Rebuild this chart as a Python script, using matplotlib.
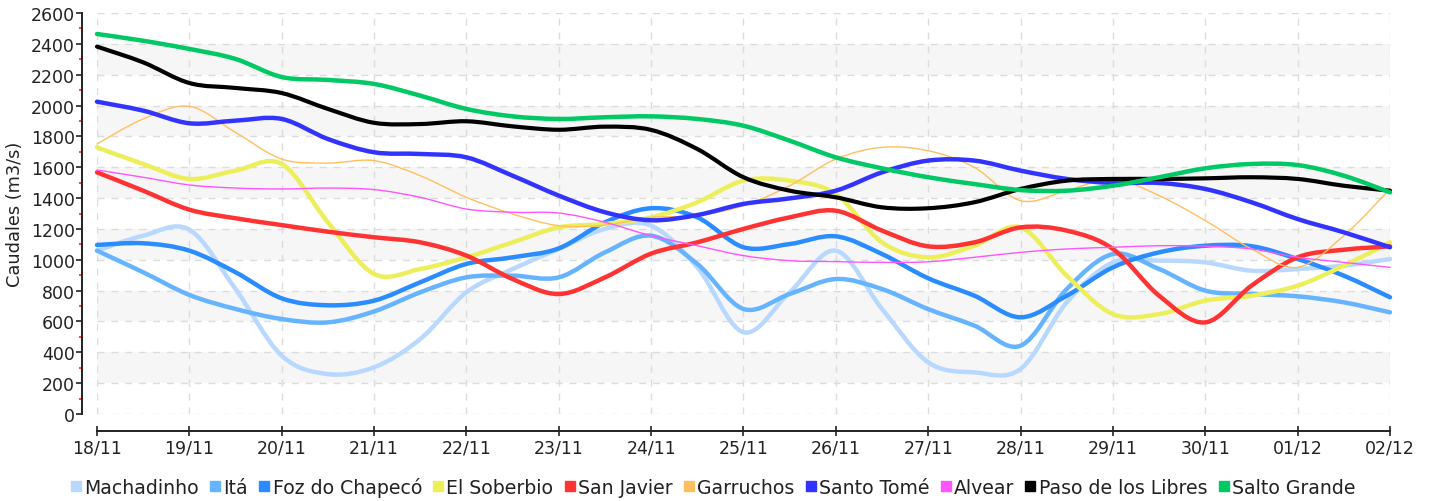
import numpy as np
import matplotlib.pyplot as plt
from matplotlib.lines import Line2D
from matplotlib.path import Path
from matplotlib.patches import PathPatch

# days from 18/11, sampled every half day
days = np.arange(0, 14.01, 0.5)
date_labels = ['18/11', '19/11', '20/11', '21/11', '22/11', '23/11', '24/11', '25/11',
               '26/11', '27/11', '28/11', '29/11', '30/11', '01/12', '02/12']

machadinho = [1059, 1156, 1195, 810, 378, 259, 303, 486, 789, 940, 1070, 1200, 1221, 951, 530,
              789, 1059, 681, 335, 270, 292, 724, 983, 994, 983, 929, 940, 962, 1005]
ita = [1059, 919, 772, 681, 616, 594, 665, 789, 886, 897, 886, 1048, 1156, 973, 681,
       778, 875, 810, 680, 573, 443, 810, 1037, 940, 800, 778, 763, 724, 659]
foz = [1096, 1107, 1059, 919, 750, 705, 735, 854, 973, 1016, 1074, 1243, 1334, 1275, 1081,
       1102, 1152, 1037, 880, 767, 627, 767, 951, 1048, 1091, 1088, 1005, 897, 757]
soberbio = [1729, 1621, 1524, 1578, 1621, 1243, 908, 940, 1016, 1113, 1210, 1232, 1275, 1373, 1513,
            1513, 1426, 1113, 1016, 1091, 1210, 897, 648, 648, 735, 767, 832, 962, 1113]
san_javier = [1567, 1448, 1325, 1269, 1225, 1182, 1146, 1113, 1027, 875, 778, 886, 1040, 1113, 1200,
              1275, 1318, 1189, 1087, 1113, 1210, 1189, 1070, 767, 594, 832, 1016, 1065, 1087]
garruchos = [1751, 1913, 1995, 1826, 1653, 1627, 1643, 1545, 1405, 1297, 1221, 1225, 1275, 1286, 1351,
             1480, 1653, 1729, 1707, 1599, 1383, 1448, 1524, 1416, 1254, 1070, 951, 1156, 1459]
santo_tome = [2025, 1967, 1885, 1902, 1913, 1783, 1697, 1686, 1664, 1545, 1416, 1308, 1256, 1290, 1362,
              1398, 1448, 1567, 1643, 1643, 1578, 1524, 1498, 1498, 1459, 1373, 1264, 1178, 1081]
alvear = [1582, 1535, 1485, 1465, 1459, 1465, 1455, 1405, 1329, 1308, 1303, 1243, 1156, 1091, 1027,
          994, 988, 983, 987, 1016, 1048, 1070, 1081, 1091, 1088, 1070, 1016, 983, 951]
paso_libres = [2382, 2280, 2146, 2114, 2081, 1978, 1888, 1880, 1898, 1865, 1843, 1863, 1842, 1718, 1535,
               1448, 1405, 1340, 1334, 1373, 1459, 1513, 1524, 1524, 1528, 1535, 1524, 1480, 1448]
salto_grande = [2464, 2420, 2367, 2302, 2185, 2166, 2140, 2064, 1978, 1930, 1913, 1924, 1930, 1913, 1869,
                1772, 1664, 1593, 1535, 1491, 1452, 1448, 1480, 1535, 1593, 1621, 1614, 1545, 1437]

names = ['Machadinho', 'Itá', 'Foz do Chapecó', 'El Soberbio', 'San Javier', 'Garruchos',
         'Santo Tomé', 'Alvear', 'Paso de los Libres', 'Salto Grande']
series = [machadinho, ita, foz, soberbio, san_javier, garruchos, santo_tome, alvear,
          paso_libres, salto_grande]
colors = ['#b8d8ff', '#66b3ff', '#2b8cff', '#ecef5a', '#ff3333', '#ffbf5e',
          '#3333ff', '#ff55ff', '#000000', '#00c864']
widths = [3.2, 3.2, 3.2, 3.2, 3.2, 1.0, 3.2, 1.0, 3.0, 3.2]


def spline_path(x, y):
    # catmull-rom through the points, drawn as cubic beziers (like a spline series)
    p = np.column_stack([x, y]).astype(float)
    ext = np.vstack([p[0], p, p[-1]])
    verts = [p[0]]
    codes = [Path.MOVETO]
    for i in range(len(p) - 1):
        p0, p1, p2, p3 = ext[i], ext[i + 1], ext[i + 2], ext[i + 3]
        verts += [p1 + (p2 - p0) / 6, p2 - (p3 - p1) / 6, p2]
        codes += [Path.CURVE4] * 3
    return Path(verts, codes)


fig = plt.figure(figsize=(14.39, 5.02), dpi=100)
ax = fig.add_axes([97 / 1439, 1 - 415 / 502, (1390 - 97) / 1439, (415 - 14) / 502])

# alternating bands
for lo in range(200, 2600, 400):
    ax.axhspan(lo, lo + 200, color='#f6f6f6', zorder=0, lw=0)

ax.grid(True, color='#dcdcdc', linestyle=(0, (5, 5)), linewidth=1.0, zorder=1)
ax.set_axisbelow(True)

for vals, c, w in zip(series, colors, widths):
    ax.add_patch(PathPatch(spline_path(days, vals), fill=False, edgecolor=c, lw=w,
                           capstyle='round', joinstyle='round', clip_on=False, zorder=3))

ax.set_xlim(0, 14)
ax.set_ylim(0, 2600)
ax.set_xticks(range(15))
ax.set_xticklabels(date_labels)
ax.set_yticks(range(0, 2601, 200))
ax.set_yticks(range(100, 2600, 200), minor=True)

for s in ['top', 'right']:
    ax.spines[s].set_visible(False)
ax.spines['left'].set_position(('outward', 11))
ax.spines['bottom'].set_position(('outward', 12))
for s in ['left', 'bottom']:
    ax.spines[s].set_linewidth(1.4)
    ax.spines[s].set_color('#222222')

ax.tick_params(axis='y', which='major', length=4, width=1.2, color='#222222',
               labelsize=12.5, labelcolor='#222222', pad=1)
ax.tick_params(axis='y', which='minor', length=2.5, width=1.2, color='#ff2222')
ax.tick_params(axis='x', which='major', direction='inout', length=7, width=1.2,
               color='#222222', labelsize=12.5, labelcolor='#222222', pad=2)
ax.set_ylabel('Caudales (m3/s)', fontsize=12.8, color='#222222', labelpad=5)

handles = [Line2D([], [], marker='s', ms=6.5, ls='none', color=c) for c in colors]
fig.legend(handles, names, loc='center', bbox_to_anchor=(0.495, 0.028), ncol=10,
           frameon=False, handletextpad=0.1, columnspacing=0.5, handlelength=0.7,
           fontsize=13.6, labelcolor='#222222', borderaxespad=0)

fig.savefig('out.png', dpi=100)
